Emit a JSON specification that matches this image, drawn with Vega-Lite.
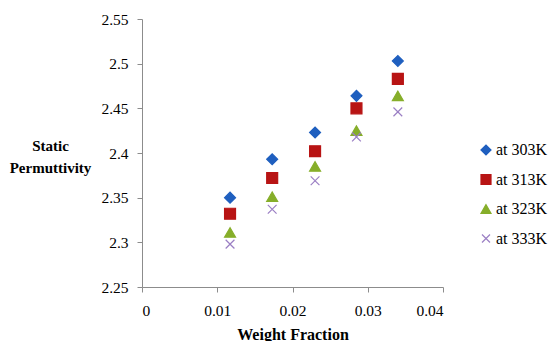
{
  "$schema": "https://vega.github.io/schema/vega-lite/v6.json",
  "width": 301,
  "height": 268,
  "autosize": {"type": "none"},
  "padding": {"left": 142, "top": 19, "right": 105, "bottom": 54},
  "background": "white",
  "config": {"view": {"stroke": null}, "font": "Liberation Serif"},
  "data": {"values": [
    {"w": 0.0117, "p": 2.350, "s": "at 303K"},
    {"w": 0.0173, "p": 2.393, "s": "at 303K"},
    {"w": 0.0230, "p": 2.423, "s": "at 303K"},
    {"w": 0.0285, "p": 2.464, "s": "at 303K"},
    {"w": 0.0340, "p": 2.503, "s": "at 303K"},
    {"w": 0.0117, "p": 2.332, "s": "at 313K"},
    {"w": 0.0173, "p": 2.372, "s": "at 313K"},
    {"w": 0.0230, "p": 2.402, "s": "at 313K"},
    {"w": 0.0285, "p": 2.450, "s": "at 313K"},
    {"w": 0.0340, "p": 2.483, "s": "at 313K"},
    {"w": 0.0117, "p": 2.311, "s": "at 323K"},
    {"w": 0.0173, "p": 2.351, "s": "at 323K"},
    {"w": 0.0230, "p": 2.385, "s": "at 323K"},
    {"w": 0.0285, "p": 2.425, "s": "at 323K"},
    {"w": 0.0340, "p": 2.464, "s": "at 323K"},
    {"w": 0.0117, "p": 2.298, "s": "at 333K"},
    {"w": 0.0173, "p": 2.337, "s": "at 333K"},
    {"w": 0.0230, "p": 2.369, "s": "at 333K"},
    {"w": 0.0285, "p": 2.418, "s": "at 333K"},
    {"w": 0.0340, "p": 2.446, "s": "at 333K"}
  ]},
  "mark": {"type": "point", "filled": false, "size": 120, "strokeWidth": 1.2, "opacity": 1},
  "encoding": {
    "x": {"field": "w", "type": "quantitative",
      "scale": {"domain": [0, 0.04], "nice": false, "zero": false},
      "axis": {"values": [0, 0.01, 0.02, 0.03, 0.04], "format": "~g", "grid": false,
        "domainColor": "#8c8c8c", "tickColor": "#8c8c8c", "tickSize": 5,
        "labelFont": "Liberation Serif", "labelFontSize": 15.5, "labelColor": "#000", "labelPadding": 11,
        "title": "Weight Fraction", "titleFont": "Liberation Serif", "titleFontSize": 16, "titleFontWeight": "bold", "titleColor": "#000",
        "titleY": 47, "titleBaseline": "middle"}},
    "y": {"field": "p", "type": "quantitative",
      "scale": {"domain": [2.25, 2.55], "nice": false, "zero": false},
      "axis": {"values": [2.25, 2.3, 2.35, 2.4, 2.45, 2.5, 2.55], "format": "~g", "grid": false,
        "domainColor": "#8c8c8c", "tickColor": "#8c8c8c", "tickSize": 5,
        "labelFont": "Liberation Serif", "labelFontSize": 15.5, "labelColor": "#000", "labelPadding": 9,
        "title": ["Static", "Permuttivity"], "titleFont": "Liberation Serif", "titleFontSize": 15, "titleFontWeight": "bold", "titleColor": "#000",
        "titleAngle": 0, "titleAlign": "center", "titleBaseline": "middle", "titleX": -92, "titleY": 126, "titleLineHeight": 22}},
    "shape": {"field": "s", "type": "nominal",
      "scale": {"domain": ["at 303K", "at 313K", "at 323K", "at 333K"],
        "range": ["diamond", "square", "triangle-up", "M-0.8,-0.8L0.8,0.8M-0.8,0.8L0.8,-0.8"]},
      "legend": {"title": null}},
    "fill": {"field": "s", "type": "nominal",
      "scale": {"domain": ["at 303K", "at 313K", "at 323K", "at 333K"],
        "range": ["#1f5fbf", "#b81414", "#86ae2a", "transparent"]},
      "legend": {"title": null}},
    "stroke": {"field": "s", "type": "nominal",
      "scale": {"domain": ["at 303K", "at 313K", "at 323K", "at 333K"],
        "range": ["#1f5fbf", "#b81414", "#86ae2a", "#9b7fc4"]},
      "legend": {"title": null, "orient": "none", "legendX": 336, "legendY": 123,
        "labelFont": "Liberation Serif", "labelFontSize": 16, "labelColor": "#000",
        "symbolSize": 100, "rowPadding": 13.5, "labelOffset": 2, "symbolStrokeWidth": 1.2}}
  }
}
